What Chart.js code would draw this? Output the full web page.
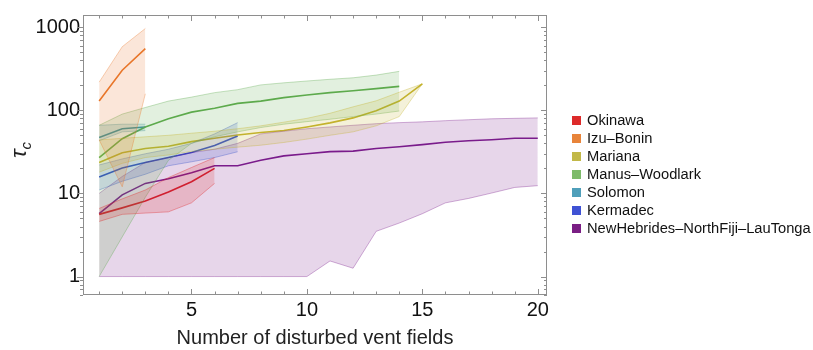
<!DOCTYPE html>
<html>
<head>
<meta charset="utf-8">
<script src="https://cdn.jsdelivr.net/npm/chart.js@4.4.0/dist/chart.umd.min.js"></script>
<style>
  body { margin: 0; background: #fff; }
  #wrap { position: relative; width: 813px; height: 350px; }
  #legend { position: absolute; left: 572px; top: 111px; font: 14.7px "Liberation Sans", Arial, sans-serif; color: #111; }
  .item { height: 18px; display: flex; align-items: center; white-space: nowrap; }
  .box { width: 9px; height: 9px; margin-right: 6px; }
</style>
</head>
<body>
<div id="wrap">
  <canvas id="myChart" width="813" height="350"></canvas>
  <div id="legend"></div>
</div>
<script>
// data, x = 1, 2, 3 ...
const names = ['Okinawa', 'Izu\u2013Bonin', 'Mariana', 'Manus\u2013Woodlark', 'Solomon', 'Kermadec', 'NewHebrides\u2013NorthFiji\u2013LauTonga'];
const lineColors = ['#e0201f', '#e8772a', '#c4b22c', '#5daa4c', '#3f8fa3', '#3350c8', '#7a1c8c'];
const boxColors = ['#dd2a2a', '#e8843a', '#c2b848', '#7dbb6a', '#4f9fba', '#3f52d4', '#7a1e84'];

const okinawaMean = [5.6, 6.7, 8.1, 10.4, 13.8, 20];
const okinawaHi = [6.6, 8.6, 11, 15.5, 20.5, 27];
const okinawaLo = [4.6, 5.6, 5.8, 6.0, 7.7, 13.2];

const izuMean = [129, 303, 552];
const izuHi = [218, 582, 963];
const izuLo = [44, 12, 158];

const marianaMean = [23.6, 30.9, 34.7, 37, 42, 46, 50.5, 54, 57, 63, 70.6, 81, 99, 129, 208];
const marianaHi = [44, 46, 48, 50, 53, 56, 60, 65, 72, 80, 92, 110, 130, 165, 208];
const marianaLo = [18, 23, 27, 29, 32, 34, 36, 38, 41, 45, 50, 55, 65, 84, 208];

const manusMean = [27, 45.5, 63, 79, 95, 106, 121, 129, 142, 153, 163, 172, 182, 194];
const manusHi = [66, 90, 108, 129, 144, 163, 177, 202, 214, 225, 236, 246, 265, 294];
const manusLo = [1, 3, 9, 25, 40, 48, 55, 62, 68, 73, 78, 84, 90, 98];

const solomonMean = [47, 60, 63];
const solomonHi = [66, 68, 68];
const solomonLo = [43, 55, 57];

const kermadecMean = [15.8, 20.2, 23.6, 27, 31, 37.6, 49];
const kermadecHi = [22, 26, 30, 34, 40, 52, 71];
const kermadecLo = [11, 14, 17, 21.5, 24, 27, 31.7];

const nhMean = [5.7, 9.6, 13.2, 15, 17.7, 21.5, 21.5, 25, 28.3, 30, 31.8, 32.3, 34.7, 36.4, 38.6, 41.3, 43, 44.3, 46, 46];
const nhHi = [10, 16, 23.6, 27, 31, 34, 40, 52, 56, 60, 63, 66, 69, 71, 72.6, 75, 77, 79, 80, 81];
const nhLo = [1, 1, 1, 1, 1, 1, 1, 1, 1, 1, 1.54, 1.26, 3.5, 4.4, 5.7, 7.7, 8.7, 10.1, 11.8, 12.4];

const xTicks = [5, 10, 15, 20];
const yTicks = [1, 10, 100, 1000];

const series = [
  [okinawaMean, okinawaHi, okinawaLo],
  [izuMean, izuHi, izuLo],
  [marianaMean, marianaHi, marianaLo],
  [manusMean, manusHi, manusLo],
  [solomonMean, solomonHi, solomonLo],
  [kermadecMean, kermadecHi, kermadecLo],
  [nhMean, nhHi, nhLo],
];

function pts(arr) {
  return arr.map((v, i) => ({ x: i + 1, y: v }));
}
function alpha(hex, a) {
  const n = parseInt(hex.slice(1), 16);
  return 'rgba(' + (n >> 16) + ',' + ((n >> 8) & 255) + ',' + (n & 255) + ',' + a + ')';
}

const datasets = [];
series.forEach(function (s, i) {
  const c = lineColors[i];
  datasets.push({ label: names[i] + ' hi', data: pts(s[1]), borderColor: alpha(c, 0.35), borderWidth: 1,
    backgroundColor: alpha(c, 0.18), fill: '+1', pointRadius: 0, tension: 0 });
  datasets.push({ label: names[i] + ' lo', data: pts(s[2]), borderColor: alpha(c, 0.35), borderWidth: 1,
    fill: false, pointRadius: 0, tension: 0 });
});
series.forEach(function (s, i) {
  datasets.push({ label: names[i], data: pts(s[0]), borderColor: lineColors[i], borderWidth: 1.6,
    fill: false, pointRadius: 0, tension: 0 });
});

const font = 'Liberation Sans, Arial, sans-serif';

// frame with inward ticks, Mathematica style
const frameTicks = {
  id: 'frameTicks',
  afterDraw(chart) {
    const ctx = chart.ctx, a = chart.chartArea, x = chart.scales.x, y = chart.scales.y;
    ctx.save();
    ctx.strokeStyle = '#8e8e8e';
    ctx.lineWidth = 1;
    ctx.strokeRect(a.left + 0.5, a.top + 0.5, a.right - a.left - 1, a.bottom - a.top - 1);
    ctx.beginPath();
    for (let v = 1; v <= 20; v++) {
      const px = Math.round(x.getPixelForValue(v)) + 0.5;
      const len = v % 5 === 0 ? 6 : 3.5;
      ctx.moveTo(px, a.bottom); ctx.lineTo(px, a.bottom - len);
      ctx.moveTo(px, a.top); ctx.lineTo(px, a.top + len);
    }
    [0.1, 1, 10, 100, 1000].forEach(function (d) {
      for (let m = 1; m < 10; m++) {
        const v = d * m;
        if (v < y.min || v > y.max) continue;
        const py = Math.round(y.getPixelForValue(v)) + 0.5;
        const len = m === 1 ? 6 : 3;
        ctx.moveTo(a.left, py); ctx.lineTo(a.left - len, py);
        ctx.moveTo(a.right, py); ctx.lineTo(a.right - len, py);
      }
    });
    ctx.stroke();

    // y title: tau with subscript c
    ctx.translate(26, 150);
    ctx.rotate(-Math.PI / 2);
    ctx.fillStyle = '#222';
    ctx.textBaseline = 'alphabetic';
    ctx.font = 'italic 23px ' + font;
    ctx.fillText('\u03c4', -8, 0);
    const w = ctx.measureText('\u03c4').width;
    ctx.font = 'italic 15px ' + font;
    ctx.fillText('c', -8 + w, 5);
    ctx.restore();
  }
};

const config = {
  type: 'line',
  data: { datasets: datasets },
  options: {
    responsive: false,
    animation: false,
    layout: { padding: { left: 0, right: 266, top: 8, bottom: 0 } },
    plugins: { legend: { display: false }, tooltip: { enabled: false } },
    scales: {
      x: {
        type: 'linear', min: 0.3, max: 20.4,
        grid: { display: false, drawTicks: false }, border: { display: false },
        afterBuildTicks: function (axis) { axis.ticks = xTicks.map(v => ({ value: v })); },
        afterFit: function (axis) { axis.height = 55; },
        ticks: { padding: 3, color: '#111', font: { family: font, size: 20 }, maxRotation: 0 },
        title: { display: true, text: 'Number of disturbed vent fields', color: '#222',
          font: { family: font, size: 20 }, padding: { top: 0, bottom: 0 } }
      },
      y: {
        type: 'logarithmic', min: 0.63, max: 1400,
        grid: { display: false, drawTicks: false }, border: { display: false },
        afterBuildTicks: function (axis) { axis.ticks = yTicks.map(v => ({ value: v })); },
        afterFit: function (axis) { axis.width = 83; },
        ticks: { padding: 3, color: '#111', font: { family: font, size: 20 },
          callback: function (v) { return String(v); } }
      }
    }
  },
  plugins: [frameTicks]
};

const myChart = new Chart(document.getElementById('myChart'), config);

// legend
const legend = document.getElementById('legend');
names.forEach(function (n, i) {
  const row = document.createElement('div');
  row.className = 'item';
  row.innerHTML = '<span class="box" style="background:' + boxColors[i] + '"></span>' + n;
  legend.appendChild(row);
});
</script>
</body>
</html>
